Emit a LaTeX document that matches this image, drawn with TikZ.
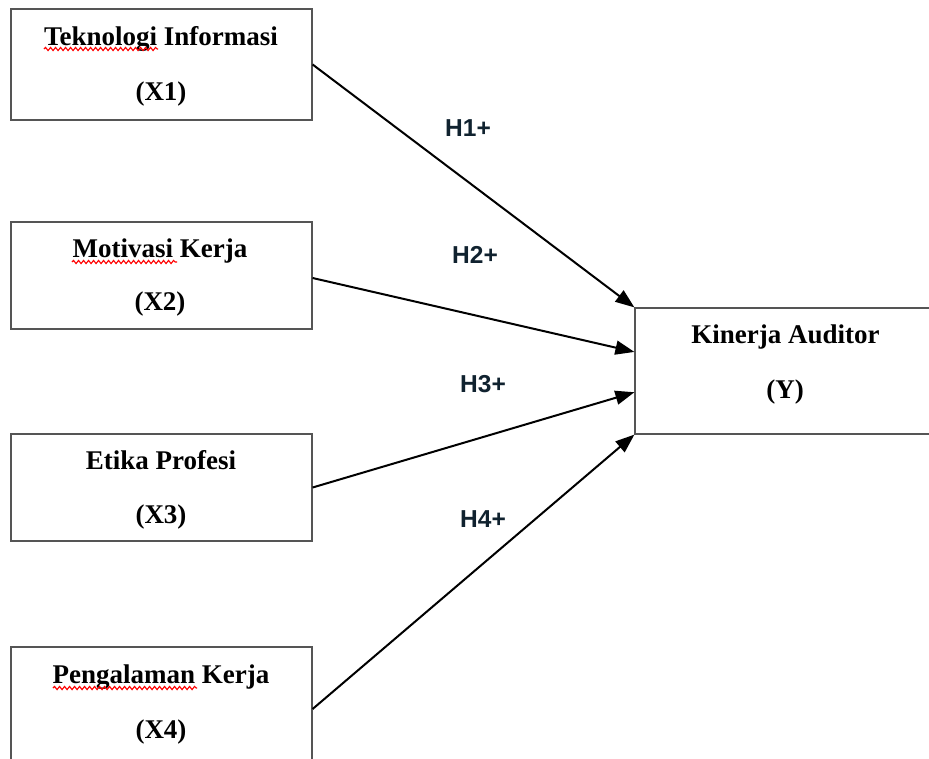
\documentclass[tikz,border=0pt]{standalone}
\usepackage{fontspec}
\setmainfont{Liberation Serif}
\newfontfamily\labelfont{Liberation Sans}
\usetikzlibrary{arrows.meta,calc,decorations.pathmorphing}
\definecolor{boxgray}{HTML}{555555}
\definecolor{hyp}{HTML}{10222F}
\tikzset{
  varbox/.style={draw=boxgray, line width=1.2pt, inner sep=0pt},
  vartext/.style={font=\bfseries\fontsize{27}{32}\selectfont, anchor=base, inner sep=0pt},
  hyplabel/.style={font=\labelfont\bfseries\fontsize{24.5}{28}\selectfont, text=hyp, anchor=base, inner sep=0pt},
  link/.style={line width=2pt, -{Triangle[length=19pt,width=14pt]}},
  squiggle/.style={draw=red, line width=1.1pt, decorate, decoration={snake, amplitude=1.6pt, segment length=5pt}}
}
\begin{document}
\begin{tikzpicture}[x=1pt,y=-1pt]
\clip (0,0) rectangle (929,758);
\fill[white] (0,0) rectangle (929,758);
% boxes
\node[varbox, minimum width=301pt, minimum height=111pt] (b1) at (161.5,64.5) {};
\node[varbox, minimum width=301pt, minimum height=107pt] (b2) at (161.5,275.5) {};
\node[varbox, minimum width=301pt, minimum height=107pt] (b3) at (161.5,487.5) {};
\node[varbox, minimum width=301pt, minimum height=120pt] (b4) at (161.5,707) {};
\node[varbox, minimum width=325pt, minimum height=126pt] (y) at (797.5,371) {};
% texts
\node[vartext] (t1a) at (161,45) {Teknologi Informasi};
\node[vartext] (t1b) at (161,100) {(X1)};
\node[vartext] (t2a) at (160,257) {Motivasi Kerja};
\node[vartext] (t2b) at (160,310) {(X2)};
\node[vartext] (t3a) at (161,469) {Etika Profesi};
\node[vartext] (t3b) at (161,523) {(X3)};
\node[vartext] (t4a) at (161,683) {Pengalaman Kerja};
\node[vartext] (t4b) at (161,738) {(X4)};
\node[vartext] (tya) at (785.5,343) {Kinerja Auditor};
\node[vartext] (tyb) at (785,398) {(Y)};
% spell-check squiggles
\draw[squiggle] (44,49) -- (158,49);
\draw[squiggle] (72,262) -- (177,262);
\draw[squiggle] (53,688) -- (197,688);
% connectors
\draw[link] (b1.east) -- (y.north west);
\draw[link] ([yshift=-2.5pt]b2.east) -- ($(y.north west)!0.35!(y.south west)$);
\draw[link] (b3.east) -- ($(y.north west)!0.667!(y.south west)$);
\draw[link] ([yshift=-2pt]b4.east) -- (y.south west);
% hypothesis labels
\node[hyplabel] (h1) at (468,136) {H1+};
\node[hyplabel] (h2) at (475,263) {H2+};
\node[hyplabel] (h3) at (483,392) {H3+};
\node[hyplabel] (h4) at (483,527) {H4+};
\end{tikzpicture}
\end{document}
